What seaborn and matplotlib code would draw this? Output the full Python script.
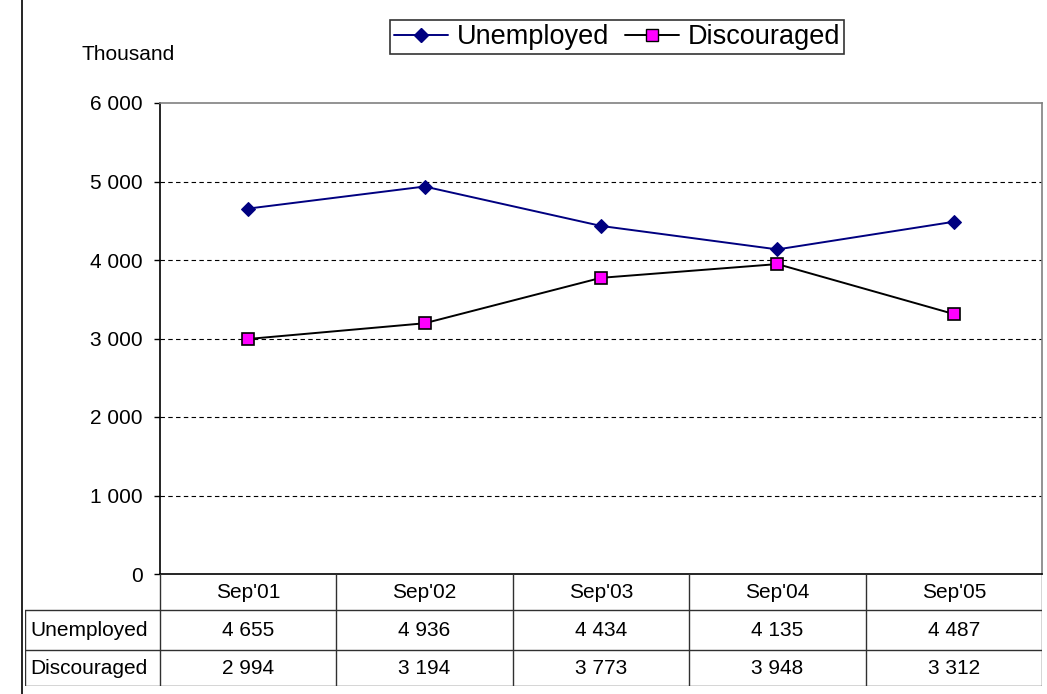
"""Unemployed vs discouraged workers, Excel-style line chart with data table."""

import matplotlib.pyplot as plt
import matplotlib.lines as mlines
import pandas as pd
import seaborn as sns

periods = ["Sep'01", "Sep'02", "Sep'03", "Sep'04", "Sep'05"]
unemployed = [4655, 4936, 4434, 4135, 4487]
discouraged = [2994, 3194, 3773, 3948, 3312]
y_ticks = [0, 1000, 2000, 3000, 4000, 5000, 6000]


def fmt(v):
    return f"{v:,.0f}".replace(",", " ")


sns.set_theme(style="white")
plt.rcParams["font.family"] = ["Liberation Sans", "DejaVu Sans"]
plt.rcParams["text.color"] = "black"
plt.rcParams["ytick.color"] = "black"
plt.rcParams["xtick.color"] = "black"
plt.rcParams["axes.labelcolor"] = "black"

W, H = 1047, 694
fig = plt.figure(figsize=(W / 100, H / 100), dpi=100)

# plot area in pixel coordinates of the reference
px_left, px_right, px_top, px_bot = 160, 1042, 103, 574
ax = fig.add_axes([px_left / W, 1 - px_bot / H,
                   (px_right - px_left) / W, (px_bot - px_top) / H])

df = pd.DataFrame({"period": periods, "Unemployed": unemployed,
                   "Discouraged": discouraged})
df["x"] = range(len(periods))

sns.lineplot(data=df, x="x", y="Unemployed", ax=ax, color="#000080",
             marker="D", markersize=7.5, markerfacecolor="#000080",
             markeredgecolor="#000080", linewidth=1.4)
sns.lineplot(data=df, x="x", y="Discouraged", ax=ax, color="black",
             marker="s", markersize=9, markerfacecolor="#FF00FF",
             markeredgecolor="black", markeredgewidth=1.2, linewidth=1.4)

ax.set_xlim(-0.5, len(periods) - 0.5)
ax.set_ylim(0, 6000)
ax.set_yticks(y_ticks)
ax.set_yticklabels([fmt(v) for v in y_ticks], fontsize=15, color="black")
ax.set_xticks([])
ax.set_xlabel("")
ax.set_ylabel("")
ax.tick_params(axis="y", direction="out", length=4.5, width=1, pad=8,
               left=True, color="black")
for v in y_ticks[1:-1]:
    ax.axhline(v, color="black", linestyle=(0, (4, 3)), linewidth=0.8, zorder=0)
ax.spines["left"].set_color("black")
ax.spines["bottom"].set_color("black")
ax.spines["top"].set_color("#808080")
ax.spines["right"].set_color("#808080")
for s in ax.spines.values():
    s.set_linewidth(1.2)

fig.text(82 / W, 1 - 54 / H, "Thousand", fontsize=15, va="center", ha="left")

# data table below the plot; row boundaries at 574, 610, 650, 686 px
tb_left, tb_top, tb_bot = 25, 574, 686
rows_px = [686, 650, 610, 574]
row_y = [(tb_bot - r) / (tb_bot - tb_top) * 3 for r in rows_px]
col_w = (px_right - px_left) / len(periods)
lab_w = (px_left - tb_left) / col_w
tax = fig.add_axes([tb_left / W, 1 - tb_bot / H,
                    (px_right - tb_left) / W, (tb_bot - tb_top) / H])
x0 = -0.5 - lab_w
x1 = len(periods) - 0.5
tax.set_xlim(x0, x1)
tax.set_ylim(0, 3)
tax.axis("off")
lc = "#303030"
for i in range(len(periods) + 1):
    tax.plot([-0.5 + i, -0.5 + i], [0, 3], color=lc, lw=1)
tax.plot([x0, x0], [0, row_y[2]], color=lc, lw=1)
for yy in row_y[:3]:
    tax.plot([x0, x1], [yy, yy], color=lc, lw=1)
mid = [(row_y[k] + row_y[k + 1]) / 2 for k in range(3)]
for i, p in enumerate(periods):
    tax.text(i, mid[2], p, ha="center", va="center", fontsize=15)
    tax.text(i, mid[1], fmt(unemployed[i]), ha="center", va="center", fontsize=15)
    tax.text(i, mid[0], fmt(discouraged[i]), ha="center", va="center", fontsize=15)
tax.text(x0 + 0.03, mid[1], "Unemployed", ha="left", va="center", fontsize=15)
tax.text(x0 + 0.03, mid[0], "Discouraged", ha="left", va="center", fontsize=15)

# legend
h1 = mlines.Line2D([], [], color="#000080", marker="D", markersize=7.5,
                   markerfacecolor="#000080", lw=1.4, label="Unemployed")
h2 = mlines.Line2D([], [], color="black", marker="s", markersize=9,
                   markerfacecolor="#FF00FF", markeredgecolor="black",
                   lw=1.4, label="Discouraged")
leg = fig.legend(handles=[h1, h2], loc="center", ncol=2,
                 bbox_to_anchor=(617 / W, 1 - 37 / H), fontsize=19.5,
                 frameon=True, fancybox=False, handlelength=2.0,
                 handletextpad=0.3, columnspacing=0.6, borderpad=0.15,
                 borderaxespad=0)
leg.get_frame().set_edgecolor("black")
leg.get_frame().set_linewidth(1.2)
for t in leg.get_texts():
    t.set_color("black")

# left border of the chart area
fig.add_artist(mlines.Line2D([22 / W, 22 / W], [0, 1], color="black", lw=1.2))

fig.savefig("out.png", dpi=100)
